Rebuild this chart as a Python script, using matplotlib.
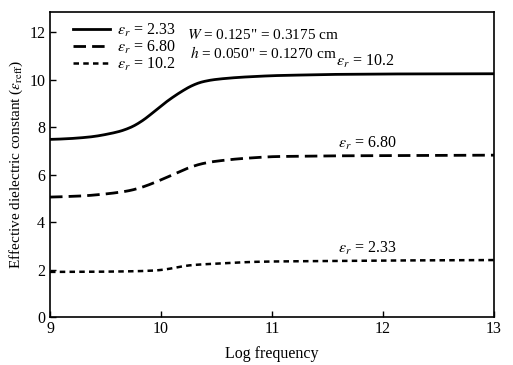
import numpy as np
import matplotlib
matplotlib.use("Agg")
from matplotlib import pyplot as plt

plt.rcParams['font.family'] = ['Liberation Serif', 'DejaVu Serif']
plt.rcParams['mathtext.fontset'] = 'stix'

# values (log frequency vs effective dielectric constant)
freq_high = [9.0, 9.2, 9.4, 9.6, 9.7, 9.8, 9.9, 10.0, 10.1, 10.2, 10.3, 10.4, 10.5, 10.7, 11.0, 11.5, 12.0, 13.0]
eps_high = [7.48, 7.52, 7.6, 7.78, 7.92, 8.15, 8.5, 8.9, 9.25, 9.55, 9.82, 9.95, 10.02, 10.1, 10.17, 10.22, 10.24, 10.25]
freq_mid = [9.0, 9.3, 9.5, 9.7, 9.8, 9.9, 10.0, 10.1, 10.2, 10.3, 10.4, 10.5, 10.7, 11.0, 11.5, 12.0, 13.0]
eps_mid = [5.05, 5.1, 5.18, 5.3, 5.42, 5.58, 5.78, 5.98, 6.2, 6.38, 6.5, 6.57, 6.67, 6.76, 6.79, 6.8, 6.82]
freq_low = [9.0, 9.5, 9.8, 10.0, 10.1, 10.2, 10.3, 10.5, 10.8, 11.0, 12.0, 13.0]
eps_low = [1.9, 1.91, 1.93, 1.97, 2.05, 2.15, 2.2, 2.25, 2.32, 2.34, 2.38, 2.4]

legend_labels = [r'$\varepsilon_r$ = 2.33', r'$\varepsilon_r$ = 6.80', r'$\varepsilon_r$ = 10.2']
curve_labels = [r'$\varepsilon_r$ = 10.2', r'$\varepsilon_r$ = 6.80', r'$\varepsilon_r$ = 2.33']


def smooth(xs, ys):
    # dense interpolation of the read points, then a light moving average
    xd = np.linspace(xs[0], xs[-1], 400)
    yd = np.interp(xd, xs, ys)
    k = 8
    pad = np.pad(yd, k, mode='edge')
    yd = np.convolve(pad, np.ones(2 * k + 1) / (2 * k + 1), mode='valid')
    return xd, yd


fig = plt.figure(figsize=(5.13, 3.65), dpi=100)
ax = fig.add_axes([0.0975, 0.1315, 0.8655, 0.8355])

l1, = ax.plot(*smooth(freq_high, eps_high), color='black', lw=2.0, linestyle='-')
l2, = ax.plot(*smooth(freq_mid, eps_mid), color='black', lw=2.0, linestyle=(0, (4.5, 2.2)))
l3, = ax.plot(*smooth(freq_low, eps_low), color='black', lw=1.8, linestyle=(0, (2.2, 1.7)))

ax.set_xlim(9, 13)
ax.set_ylim(0, 12.85)
ax.set_xticks([9, 10, 11, 12, 13])
ax.set_yticks([0, 2, 4, 6, 8, 10, 12])
ax.tick_params(direction='in', length=4, labelsize=11.5, width=1)
ax.tick_params(axis='x', pad=3)
for s in ax.spines.values():
    s.set_linewidth(1.2)

ax.set_xlabel('Log frequency', fontsize=11.5, labelpad=6)
ax.set_ylabel(r'Effective dielectric constant ($\varepsilon_{\mathrm{reff}}$)', fontsize=11, labelpad=3)

leg = ax.legend([l1, l2, l3], legend_labels, loc='upper left', bbox_to_anchor=(0.03, 1.0),
                frameon=False, fontsize=11.5, handlelength=2.3, handletextpad=0.45,
                labelspacing=0.0, borderaxespad=0.2)

ax.text(0.308, 0.925, '$W$ = 0.125" = 0.3175 cm', transform=ax.transAxes,
        fontsize=11, va='center', ha='left')
ax.text(0.316, 0.865, '$h$ = 0.050" = 0.1270 cm', transform=ax.transAxes,
        fontsize=11, va='center', ha='left')

ax.text(11.84, 10.75, curve_labels[0], fontsize=11.5, ha='center', va='center')
ax.text(11.86, 7.3, curve_labels[1], fontsize=11.5, ha='center', va='center')
ax.text(11.86, 2.9, curve_labels[2], fontsize=11.5, ha='center', va='center')

fig.savefig('out.png', dpi=100)
